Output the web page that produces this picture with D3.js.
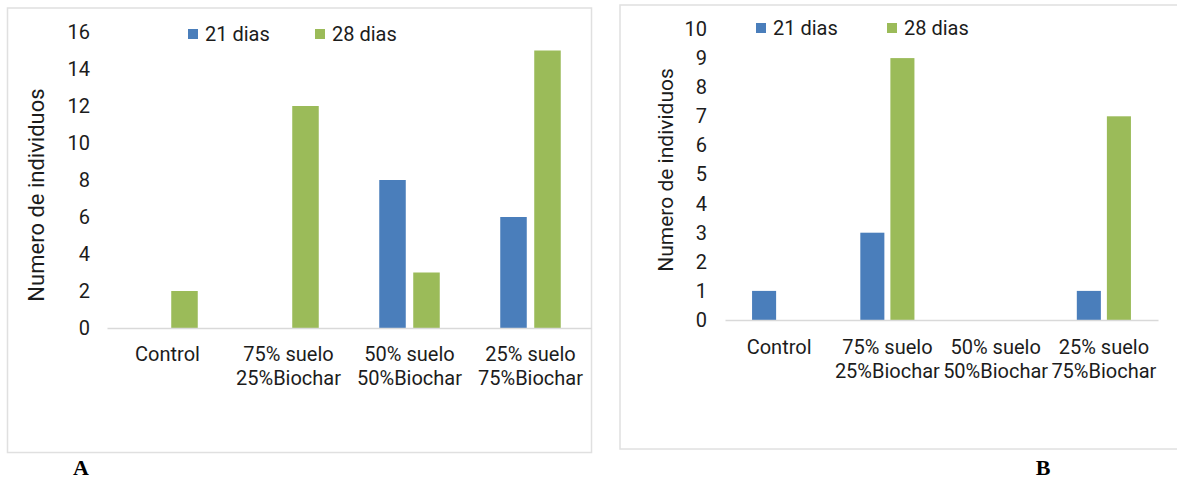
<!DOCTYPE html>
<html>
<head>
<meta charset="utf-8">
<script src="https://cdn.jsdelivr.net/npm/d3@7"></script>
<style>
  html, body { margin: 0; padding: 0; background: #fff; }
  svg { display: block; }
</style>
</head>
<body>
<svg id="chart" width="1177" height="481"></svg>
<script>
// ---- Data ----
const categories = ["Control", "75% suelo\n25%Biochar", "50% suelo\n50%Biochar", "25% suelo\n75%Biochar"];
const seriesNames = ["21 dias", "28 dias"];
const seriesColors = ["#4a7ebb", "#9bbb59"];

// Panel A
const valuesA21 = [0, 0, 8, 6];
const valuesA28 = [2, 12, 3, 15];
const ticksA = [0, 2, 4, 6, 8, 10, 12, 14, 16];

// Panel B
const valuesB21 = [1, 3, 0, 1];
const valuesB28 = [0, 9, 0, 7];
const ticksB = [0, 1, 2, 3, 4, 5, 6, 7, 8, 9, 10];

const yTitle = "Numero de individuos";
const panelLabels = ["A", "B"];

const SANS = "Roboto, 'Noto Sans', sans-serif";
const TXT = "#1c1c1c";
const svg = d3.select("#chart");

function drawPanel(cfg) {
  const g = svg.append("g");
  // frame
  g.append("rect")
    .attr("x", cfg.frame[0]).attr("y", cfg.frame[1])
    .attr("width", cfg.frame[2]).attr("height", cfg.frame[3])
    .attr("fill", "none").attr("stroke", "#e0e0e0").attr("stroke-width", 1.5);

  const x0 = d3.scaleBand().domain(categories).range(cfg.xRange)
    .paddingInner(0.5).paddingOuter(0.25);
  const x1 = d3.scaleBand().domain(seriesNames).range([0, x0.bandwidth()])
    .paddingInner(cfg.innerPad).paddingOuter(0);
  const y = d3.scaleLinear().domain([0, d3.max(cfg.ticks)]).range(cfg.yRange);

  const data = categories.map((c, i) => ({
    cat: c,
    vals: [{ s: seriesNames[0], v: cfg.v21[i] }, { s: seriesNames[1], v: cfg.v28[i] }]
  }));

  // bars
  const grp = g.append("g").selectAll("g").data(data).join("g")
    .attr("transform", d => `translate(${x0(d.cat)},0)`);
  grp.selectAll("rect").data(d => d.vals.filter(e => e.v > 0)).join("rect")
    .attr("x", d => x1(d.s))
    .attr("width", x1.bandwidth())
    .attr("y", d => y(d.v))
    .attr("height", d => y(0) - y(d.v))
    .attr("fill", d => seriesColors[seriesNames.indexOf(d.s)]);

  // x baseline
  const xAxis = g.append("g").attr("transform", `translate(0,${y(0)})`)
    .call(d3.axisBottom(x0).tickSize(0).tickSizeOuter(0).tickFormat(""));
  xAxis.select(".domain").attr("stroke", "#d9d9d9").attr("stroke-width", 1.5);

  // category labels
  categories.forEach(c => {
    const lines = c.split("\n");
    const cx = x0(c) + x0.bandwidth() / 2;
    const t = g.append("text")
      .attr("x", cx)
      .attr("y", y(0) + cfg.labelDy)
      .attr("text-anchor", "middle")
      .style("font-family", SANS)
      .style("font-size", cfg.catFont + "px")
      .attr("fill", TXT);
    lines.forEach((ln, k) => {
      t.append("tspan").attr("x", cx)
        .attr("dy", k === 0 ? 0 : cfg.lineH).text(ln);
    });
  });

  // y axis labels
  const yAxis = g.append("g").attr("transform", `translate(${cfg.xRange[0]},0)`)
    .call(d3.axisLeft(y).tickValues(cfg.ticks).tickSize(0).tickPadding(cfg.tickPad));
  yAxis.select(".domain").remove();
  yAxis.selectAll("text")
    .style("font-family", SANS).style("font-size", cfg.tickFont + "px")
    .attr("fill", TXT);

  // y title
  g.append("text")
    .attr("transform", `translate(${cfg.titlePos[0]},${cfg.titlePos[1]}) rotate(-90)`)
    .attr("text-anchor", "middle")
    .style("font-family", SANS)
    .style("font-size", cfg.titleFont + "px")
    .attr("fill", TXT)
    .text(yTitle);

  // legend
  seriesNames.forEach((s, i) => {
    g.append("rect")
      .attr("x", cfg.legendX[i]).attr("y", cfg.legendY - 5)
      .attr("width", 10).attr("height", 10)
      .attr("fill", seriesColors[i]);
    g.append("text")
      .attr("x", cfg.legendX[i] + 17).attr("y", cfg.legendY + 7)
      .style("font-family", SANS)
      .style("font-size", cfg.legendFont + "px")
      .attr("fill", TXT)
      .text(s);
  });

  // panel letter
  svg.append("text")
    .attr("x", cfg.letterPos[0]).attr("y", cfg.letterPos[1])
    .attr("text-anchor", "middle")
    .style("font-family", "'Liberation Serif', 'DejaVu Serif', serif")
    .style("font-weight", "bold")
    .style("font-size", "22px")
    .attr("fill", "#000")
    .text(cfg.letter);
}

drawPanel({
  frame: [7.5, 8, 584, 444.5],
  xRange: [107, 591], yRange: [328, 32], innerPad: 0.22,
  v21: valuesA21, v28: valuesA28, ticks: ticksA,
  labelDy: 33, lineH: 24, catFont: 20, tickFont: 20, tickPad: 17,
  titlePos: [44, 195], titleFont: 22,
  legendX: [188, 315], legendY: 34, legendFont: 20,
  letterPos: [81, 475], letter: panelLabels[0]
});

drawPanel({
  frame: [620, 5, 600, 444],
  xRange: [725, 1158], yRange: [320, 29], innerPad: 0.2,
  v21: valuesB21, v28: valuesB28, ticks: ticksB,
  labelDy: 34, lineH: 24, catFont: 20, tickFont: 20, tickPad: 18,
  titlePos: [673, 170], titleFont: 21,
  legendX: [756, 887], legendY: 28, legendFont: 20,
  letterPos: [1043, 475], letter: panelLabels[1]
});
</script>
</body>
</html>
